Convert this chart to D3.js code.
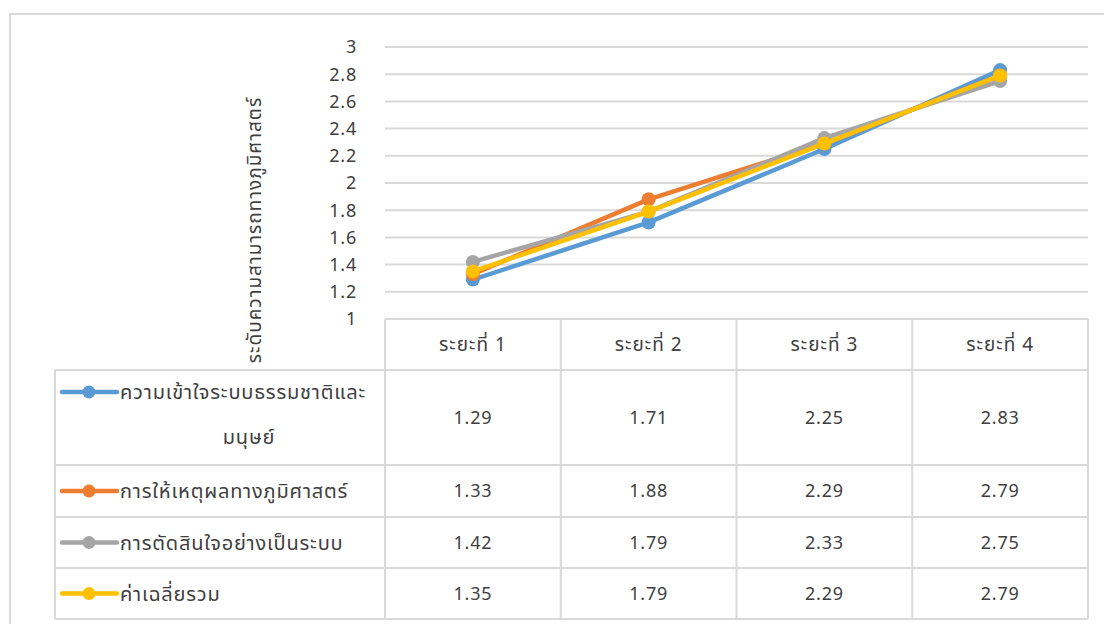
<!DOCTYPE html>
<html>
<head>
<meta charset="utf-8">
<script src="https://cdn.jsdelivr.net/npm/d3@7"></script>
<style>
  body { margin: 0; background: #fff; }
  text { font-family: "Noto Sans Thai", "Noto Sans", "DejaVu Sans", sans-serif; fill: #404040; }
  .num { font-size: 18px; letter-spacing: 0.8px; }
  .thai { font-size: 20px; letter-spacing: 0.8px; }
  .head { font-size: 19px; letter-spacing: 1px; }
</style>
</head>
<body>
<div id="chart"></div>
<script>
// data
const periods = ["ระยะที่ 1", "ระยะที่ 2", "ระยะที่ 3", "ระยะที่ 4"];
const seriesNames = ["ความเข้าใจระบบธรรมชาติและมนุษย์", "การให้เหตุผลทางภูมิศาสตร์", "การตัดสินใจอย่างเป็นระบบ", "ค่าเฉลี่ยรวม"];
const seriesColors = ["#5B9BD5", "#ED7D31", "#A5A5A5", "#FFC000"];
const understanding = [1.29, 1.71, 2.25, 2.83];
const reasoning = [1.33, 1.88, 2.29, 2.79];
const decision = [1.42, 1.79, 2.33, 2.75];
const average = [1.35, 1.79, 2.29, 2.79];
const yTicks = [1, 1.2, 1.4, 1.6, 1.8, 2, 2.2, 2.4, 2.6, 2.8, 3];
const yTitle = "ระดับความสามารถทางภูมิศาสตร์";

const allSeries = [understanding, reasoning, decision, average];

const W = 1104, H = 624;
const svg = d3.select("#chart").append("svg")
    .attr("width", W)
    .attr("height", H);

// chart frame
svg.append("rect")
    .attr("x", 10).attr("y", 14)
    .attr("width", W).attr("height", H)
    .attr("fill", "none")
    .attr("stroke", "#d9d9d9")
    .attr("stroke-width", 2);

const plotLeft = 385, plotRight = 1088, plotTop = 47, plotBottom = 319;

let x = d3.scaleBand().domain(periods).range([plotLeft, plotRight]);
let y = d3.scaleLinear().domain([1, 3]).range([plotBottom, plotTop]);

// gridlines
svg.append("g")
    .selectAll("line")
    .data(yTicks.slice(1))
    .enter()
    .append("line")
    .attr("x1", plotLeft).attr("x2", plotRight)
    .attr("y1", d => y(d)).attr("y2", d => y(d))
    .attr("stroke", "#d9d9d9")
    .attr("stroke-width", 2);

// y tick labels
svg.append("g")
    .selectAll("text")
    .data(yTicks)
    .enter()
    .append("text")
    .attr("class", "num")
    .attr("x", 357)
    .attr("y", d => y(d))
    .attr("dy", "0.35em")
    .attr("text-anchor", "end")
    .text(d => d3.format("~g")(d));

// y axis title
svg.append("text")
    .attr("class", "head")
    .attr("transform", "translate(261,230) rotate(-90)")
    .attr("text-anchor", "middle")
    .text(yTitle);

// table
const tableLeft = 55;
const rowEdges = [319, 370, 465, 517, 568, 619];
const colEdges = [plotLeft].concat(periods.map(p => x(p) + x.bandwidth()));

let table = svg.append("g").attr("class", "table");

// horizontal rules
rowEdges.forEach((ry, i) => {
    table.append("line")
        .attr("x1", i === 0 ? plotLeft : tableLeft).attr("x2", plotRight)
        .attr("y1", ry).attr("y2", ry)
        .attr("stroke", "#d9d9d9").attr("stroke-width", 2);
});
// vertical rules
colEdges.forEach(cx => {
    table.append("line")
        .attr("x1", cx).attr("x2", cx)
        .attr("y1", rowEdges[0]).attr("y2", rowEdges[rowEdges.length - 1])
        .attr("stroke", "#d9d9d9").attr("stroke-width", 2);
});
table.append("line")
    .attr("x1", tableLeft).attr("x2", tableLeft)
    .attr("y1", rowEdges[1]).attr("y2", rowEdges[rowEdges.length - 1])
    .attr("stroke", "#d9d9d9").attr("stroke-width", 2);

// header
table.selectAll(".head")
    .data(periods)
    .enter()
    .append("text")
    .attr("class", "head")
    .attr("x", d => x(d) + x.bandwidth() / 2)
    .attr("y", (rowEdges[0] + rowEdges[1]) / 2)
    .attr("dy", "0.35em")
    .attr("text-anchor", "middle")
    .text(d => d);

// rows
allSeries.forEach((vals, i) => {
    let top = rowEdges[i + 1], bottom = rowEdges[i + 2];
    let mid = (top + bottom) / 2;

    // values
    table.selectAll(".val" + i)
        .data(vals)
        .enter()
        .append("text")
        .attr("class", "num")
        .attr("x", (d, j) => x(periods[j]) + x.bandwidth() / 2)
        .attr("y", mid)
        .attr("dy", "0.35em")
        .attr("text-anchor", "middle")
        .text(d => d3.format(".2f")(d));

    // legend key + name
    let keyY = i === 0 ? top + 22 : mid;
    table.append("line")
        .attr("x1", 62).attr("x2", 117)
        .attr("y1", keyY).attr("y2", keyY)
        .attr("stroke", seriesColors[i])
        .attr("stroke-width", 4.5)
        .attr("stroke-linecap", "round");
    table.append("circle")
        .attr("cx", 89).attr("cy", keyY).attr("r", 6.5)
        .attr("fill", seriesColors[i]);

    if (i === 0) {
        // name wraps onto two lines
        table.append("text")
            .attr("class", "thai")
            .attr("x", 120).attr("y", keyY).attr("dy", "0.35em")
            .text("ความเข้าใจระบบธรรมชาติและ");
        table.append("text")
            .attr("class", "thai")
            .attr("x", 249).attr("y", top + 67).attr("dy", "0.35em")
            .attr("text-anchor", "middle")
            .text("มนุษย์");
    } else {
        table.append("text")
            .attr("class", "thai")
            .attr("x", 120).attr("y", keyY).attr("dy", "0.35em")
            .text(seriesNames[i]);
    }
});

// lines + markers
let line = d3.line()
    .x((d, j) => x(periods[j]) + x.bandwidth() / 2)
    .y(d => y(d));

allSeries.forEach((vals, i) => {
    let g = svg.append("g");
    g.append("path")
        .attr("d", line(vals))
        .attr("fill", "none")
        .attr("stroke", seriesColors[i])
        .attr("stroke-width", 4.5)
        .attr("stroke-linejoin", "round")
        .attr("stroke-linecap", "round");
    g.selectAll("circle")
        .data(vals)
        .enter()
        .append("circle")
        .attr("cx", (d, j) => x(periods[j]) + x.bandwidth() / 2)
        .attr("cy", d => y(d))
        .attr("r", 7)
        .attr("fill", seriesColors[i]);
});
</script>
</body>
</html>
